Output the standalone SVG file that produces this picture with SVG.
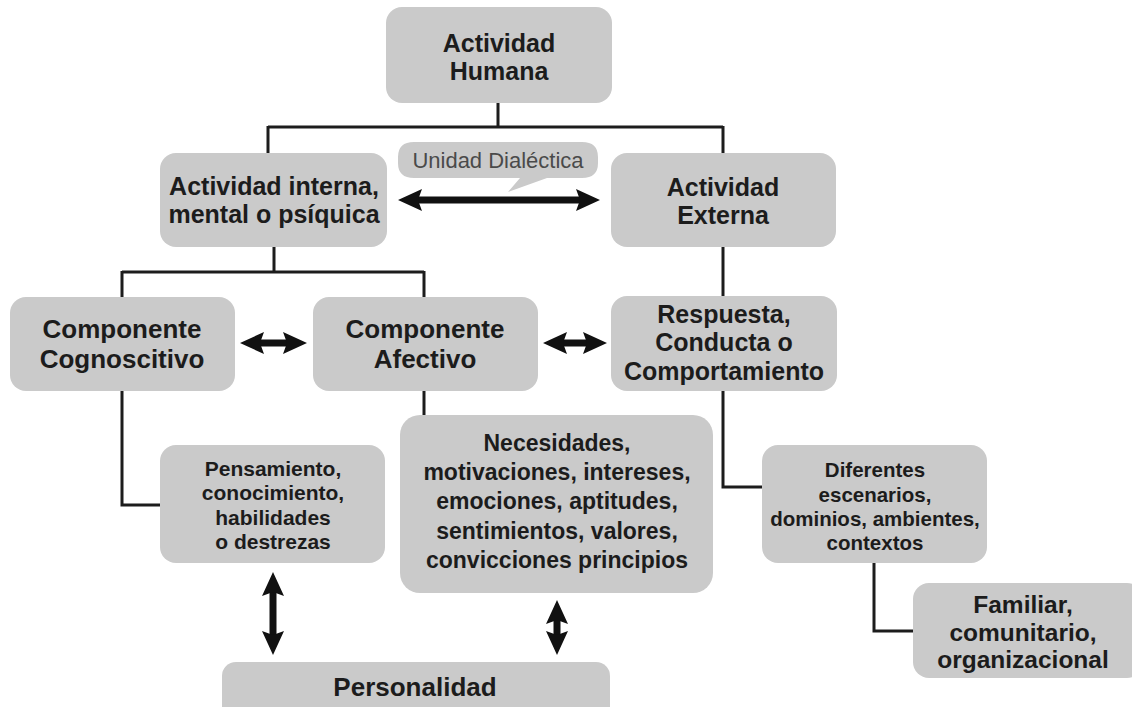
<svg xmlns="http://www.w3.org/2000/svg" width="1132" height="707" viewBox="0 0 1132 707">
<defs>
<style>
.box{fill:#cacaca;}
.t{font-family:"Liberation Sans",Arial,sans-serif;font-weight:700;fill:#1c1c1c;text-anchor:middle;}
.ln{fill:none;stroke:#1c1c1c;stroke-width:3;}
.ar{fill:none;stroke:#111;stroke-width:7;}
</style>
<marker id="ah" markerUnits="userSpaceOnUse" markerWidth="26" markerHeight="24" viewBox="0 0 26 24" refX="12" refY="12" orient="auto-start-reverse">
<path d="M0,1 L24,12 L0,23 L4,12 Z" fill="#111"/>
</marker>
</defs>
<rect width="1132" height="707" fill="#fff"/>
<g id="connectors">
<path class="ln" d="M498,102 V127 M268,127 H723 M268,126 V153 M723,126 V153"/>
<path class="ln" d="M274,247 V272 M122,272 H424 M122,271 V297 M424,271 V297"/>
<path class="ln" d="M723,247 V297"/>
<path class="ln" d="M122,391 V505 H160"/>
<path class="ln" d="M424,391 V415"/>
<path class="ln" d="M723,391 V487 H762"/>
<path class="ln" d="M874,563 V631 H913"/>
<line class="ar" x1="410" y1="200" x2="588" y2="200" marker-start="url(#ah)" marker-end="url(#ah)"/>
<line class="ar" x1="252" y1="343" x2="295" y2="343" marker-start="url(#ah)" marker-end="url(#ah)"/>
<line class="ar" x1="555" y1="343" x2="595" y2="343" marker-start="url(#ah)" marker-end="url(#ah)"/>
<line class="ar" x1="273" y1="584" x2="273" y2="643" marker-start="url(#ah)" marker-end="url(#ah)"/>
<line class="ar" x1="557" y1="612" x2="557" y2="643" marker-start="url(#ah)" marker-end="url(#ah)"/>
</g>
<g id="n-humana">
<rect class="box" x="386" y="7" width="226" height="96" rx="16"/>
<text class="t" font-size="25" x="499" y="52">Actividad</text>
<text class="t" font-size="25" x="499" y="80">Humana</text>
</g>
<g id="n-interna">
<rect class="box" x="160" y="153" width="227" height="94" rx="16"/>
<text class="t" font-size="25" x="274" y="195">Actividad interna,</text>
<text class="t" font-size="25" x="274" y="223">mental o psíquica</text>
</g>
<g id="n-unidad">
<path d="M414,142 H582 Q598,142 598,157 V163 Q598,178 582,178 H547 L508,192 L520,178 H414 Q398,178 398,163 V157 Q398,142 414,142 Z" fill="#cacaca"/>
<text font-family="'Liberation Sans',Arial,sans-serif" font-size="22" fill="#4a4a4a" text-anchor="middle" x="498" y="168">Unidad Dialéctica</text>
</g>
<g id="n-externa">
<rect class="box" x="611" y="153" width="225" height="94" rx="16"/>
<text class="t" font-size="25" x="723" y="196">Actividad</text>
<text class="t" font-size="25" x="723" y="224">Externa</text>
</g>
<g id="n-cognoscitivo">
<rect class="box" x="10" y="297" width="225" height="94" rx="16"/>
<text class="t" font-size="26" x="122" y="338">Componente</text>
<text class="t" font-size="26" x="122" y="368">Cognoscitivo</text>
</g>
<g id="n-afectivo">
<rect class="box" x="313" y="297" width="225" height="94" rx="16"/>
<text class="t" font-size="26" x="425" y="338">Componente</text>
<text class="t" font-size="26" x="425" y="368">Afectivo</text>
</g>
<g id="n-respuesta">
<rect class="box" x="611" y="296" width="226" height="95" rx="16"/>
<text class="t" font-size="25" x="724" y="323">Respuesta,</text>
<text class="t" font-size="25" x="724" y="351">Conducta o</text>
<text class="t" font-size="25" x="724" y="380">Comportamiento</text>
</g>
<g id="n-pensamiento">
<rect class="box" x="160" y="445" width="225" height="118" rx="16"/>
<text class="t" font-size="21" x="273" y="476">Pensamiento,</text>
<text class="t" font-size="21" x="273" y="500">conocimiento,</text>
<text class="t" font-size="21" x="273" y="525">habilidades</text>
<text class="t" font-size="21" x="273" y="549">o destrezas</text>
</g>
<g id="n-necesidades">
<rect class="box" x="400" y="415" width="313" height="178" rx="20"/>
<text class="t" font-size="23" x="557" y="451">Necesidades,</text>
<text class="t" font-size="23" x="557" y="480">motivaciones, intereses,</text>
<text class="t" font-size="23" x="557" y="509">emociones, aptitudes,</text>
<text class="t" font-size="23" x="557" y="539">sentimientos, valores,</text>
<text class="t" font-size="23" x="557" y="568">convicciones principios</text>
</g>
<g id="n-diferentes">
<rect class="box" x="762" y="445" width="225" height="118" rx="16"/>
<text class="t" font-size="20.5" x="875" y="477">Diferentes</text>
<text class="t" font-size="20.5" x="875" y="502">escenarios,</text>
<text class="t" font-size="20.5" x="875" y="526">dominios, ambientes,</text>
<text class="t" font-size="20.5" x="875" y="550">contextos</text>
</g>
<g id="n-familiar">
<rect class="box" x="913" y="583" width="230" height="95" rx="16"/>
<text class="t" font-size="24.5" x="1023" y="613">Familiar,</text>
<text class="t" font-size="24.5" x="1023" y="641">comunitario,</text>
<text class="t" font-size="24.5" x="1023" y="668">organizacional</text>
</g>
<g id="n-personalidad">
<rect class="box" x="222" y="662" width="388" height="60" rx="14"/>
<text class="t" font-size="26" x="415" y="696">Personalidad</text>
</g>
</svg>
